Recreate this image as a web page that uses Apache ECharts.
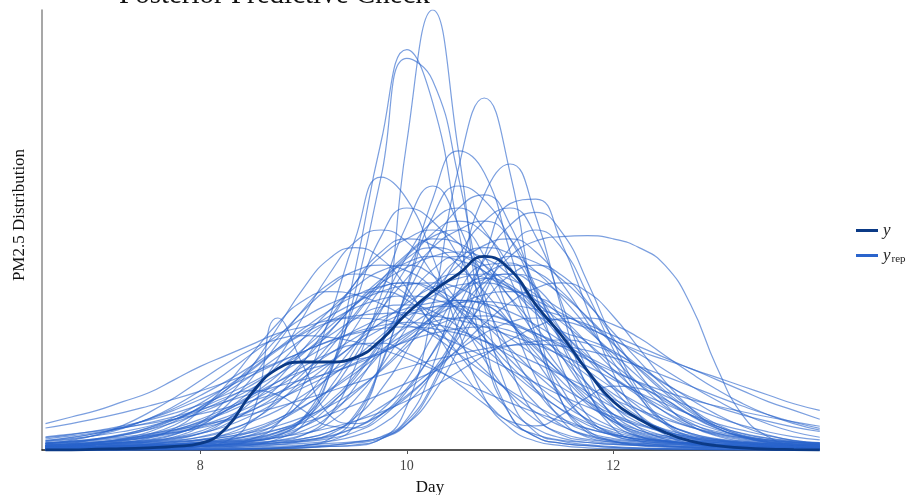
<!DOCTYPE html>
<html>
<head>
<meta charset="utf-8">
<title>Posterior Predictive Check</title>
<script src="https://cdn.jsdelivr.net/npm/echarts@6.0.0/dist/echarts.min.js"></script>
<style>
  html, body { margin: 0; padding: 0; background: #fff; }
  #chart { width: 918px; height: 495px; }
</style>
</head>
<body>
<div id="chart"></div>
<script>
// x grid (days) shared by every density curve
const dayGrid = [6.5, 6.75, 7, 7.25, 7.5, 7.75, 8, 8.25, 8.5, 8.75, 9, 9.25, 9.5, 9.75, 10, 10.25,
  10.5, 10.75, 11, 11.25, 11.5, 11.75, 12, 12.25, 12.5, 12.75, 13, 13.25, 13.5, 13.75, 14]
const dayTicks = [8, 10, 12]

// densities are written x100
const yObs = [0, 0, 0.2, 0.3, 0.5, 0.8, 1.5, 5, 13, 18.5, 20, 20, 21, 25, 31, 36, 40, 44, 41, 33, 26, 18, 11, 7, 4, 2, 1, 0.5, 0.2, 0.1, 0]

// tall, narrow draws
const repTall = [
  [0, 0, 0, 0, 0.1, 0.1, 0.1, 0.2, 0.3, 0.5, 1, 2, 6, 22, 70, 100, 68, 26, 8, 3, 1.5, 1, 0.6, 0.4, 0.3, 0.2, 0.1, 0.1, 0, 0, 0],
  [0, 0, 0.1, 0.1, 0.2, 0.3, 0.5, 0.8, 1.2, 2.5, 6, 17, 41, 70, 91, 79, 50, 22, 8, 3, 1.5, 1, 0.6, 0.4, 0.3, 0.2, 0.1, 0, 0, 0, 0],
  [0, 0.1, 0.1, 0.2, 0.3, 0.5, 0.8, 1.2, 2, 3.5, 7, 17, 36, 62, 89, 84, 62, 33, 12, 4, 2, 1.2, 0.8, 0.5, 0.3, 0.2, 0.1, 0, 0, 0, 0],
  [0, 0, 0, 0, 0, 0, 0.1, 0.1, 0.2, 0.3, 0.5, 0.8, 1.2, 2.5, 10, 32, 64, 80, 63, 31, 11, 4, 2, 1.2, 0.8, 0.5, 0.3, 0.2, 0.1, 0.1, 0],
  [0, 0, 0, 0, 0, 0.1, 0.1, 0.2, 0.3, 0.5, 1, 2.5, 7.5, 19, 37, 57, 68, 63, 45, 26, 11, 4.5, 2, 1, 0.6, 0.4, 0.2, 0.1, 0, 0, 0],
  [0, 0, 0, 0, 0, 0, 0.1, 0.1, 0.2, 0.3, 0.5, 1, 1.8, 3, 7, 19, 39, 58, 65, 53, 32, 14, 5, 2, 1, 0.6, 0.3, 0.2, 0.1, 0, 0],
  [0, 0, 0.1, 0.1, 0.3, 0.5, 0.8, 1.5, 2.5, 6, 15, 30, 48, 62, 57, 44, 27, 12, 5, 2, 1, 0.5, 0.3, 0.2, 0.1, 0.1, 0, 0, 0, 0, 0],
  [0, 0, 0, 0, 0, 0.1, 0.1, 0.2, 0.3, 0.4, 0.6, 0.8, 1, 2.5, 6.5, 15, 29, 44, 56, 57, 47, 32, 17.5, 8, 3.5, 1.5, 0.8, 0.4, 0.2, 0.1, 0],
]

// plateau, early bump and dipped draws
const repOdd = [
  [0, 0, 0, 0.1, 0.1, 0.2, 0.3, 0.5, 0.8, 1.2, 2, 3, 5, 8, 12, 18, 27, 37, 44, 47.5, 48.5, 48.7, 48, 46, 42, 33, 19, 8, 3, 1, 0.4],
  [0, 0, 0, 0, 0.2, 0.4, 0.8, 2, 8, 30, 19, 8, 6, 9, 16, 26, 36, 42, 42.5, 36, 27, 18, 10, 5, 2.5, 1.2, 0.6, 0.3, 0.1, 0, 0],
  [0.5, 0.8, 1.2, 2, 3, 4.5, 6.5, 9, 12, 15.5, 19, 22, 24, 24.3, 22, 19, 15, 10.5, 6.5, 5.5, 8, 12, 14.5, 14, 11.5, 8, 5, 3, 1.7, 1, 0.5],
  [1, 1.5, 2.5, 3.5, 5, 7, 9.5, 12, 13.5, 12.5, 9, 5.5, 5, 8, 14, 22, 31, 38, 40, 37, 30, 22, 14, 8, 4.5, 2.5, 1.3, 0.7, 0.4, 0.2, 0.1],
]

// wide draws with long tails
const repWide = [
  [6, 7.5, 9, 11, 13, 16, 19, 21.5, 24, 26.5, 28, 29.5, 30.5, 31, 31.2, 30.5, 29.5, 28, 26, 24, 21.5, 19, 16, 13, 10.5, 8, 6, 4.5, 3.2, 2.2, 1.5],
  [1, 1.3, 1.7, 2.2, 3, 4, 5.5, 7.5, 10, 13, 16.5, 20, 24, 27.5, 30.5, 32.5, 33.5, 33.8, 33, 32, 30.5, 28.5, 26, 23.5, 21, 18.5, 16.5, 14.5, 12.5, 10.5, 9],
  [0.3, 0.4, 0.6, 0.9, 1.3, 2, 3, 4.5, 6.5, 9, 12.5, 16.5, 21, 26, 31, 35, 37.5, 38, 36.5, 34, 31, 28, 25, 22.5, 20.5, 18.5, 16, 13.5, 11, 9, 7],
  [0.8, 1.1, 1.6, 2.3, 3.3, 4.6, 6.3, 8.5, 11.2, 14.4, 18, 21.8, 25.5, 28.8, 31.2, 32.5, 32.7, 31.3, 29.2, 26.5, 23.5, 20.5, 17.8, 15.4, 13.3, 11.5, 10, 8.7, 7.5, 6.4, 5.4],
  [5, 6, 7.2, 8.5, 10, 11.6, 13.4, 15.4, 17.6, 20, 22.4, 24.8, 26.8, 28.3, 29, 28.6, 27.2, 24.8, 21.4, 17.8, 14.2, 10.9, 8.1, 5.9, 4.2, 3, 2.1, 1.5, 1.05, 0.75, 0.5],
]

// draws with heavier tails or shoulders
const repTail = [
  [3, 3.6, 4.3, 5.1, 6, 7, 8.2, 9.6, 11.2, 13, 15.2, 17.8, 20.8, 24.2, 28, 31.5, 34, 33, 29, 23.5, 17, 11, 6.5, 3.6, 2.2, 1.5, 1.1, 0.8, 0.6, 0.5, 0.4],
  [0.5, 0.6, 0.8, 1, 1.3, 1.7, 2.2, 3, 4, 5.5, 7.5, 10, 13.5, 18, 23.5, 29.5, 35.5, 40, 42, 40.5, 36, 30, 24, 19, 15, 12, 9.8, 8, 6.5, 5.2, 4.2],
  [2.5, 3.2, 4, 5, 6.2, 7.6, 9.2, 11, 12.8, 14.5, 16, 17.5, 19.5, 22, 25, 28, 30, 30.5, 29, 26, 22, 18, 14, 10.5, 7.5, 5.2, 3.6, 2.5, 1.8, 1.3, 1],
  [2, 2.6, 3.3, 4.2, 5.4, 7, 9, 11.6, 14.8, 18.5, 23, 28, 33, 37, 38, 36, 32, 26.5, 20.5, 15, 10.5, 7, 4.6, 3, 2.1, 1.5, 1.1, 0.9, 0.7, 0.6, 0.5],
  [0.3, 0.4, 0.5, 0.6, 0.8, 1, 1.3, 1.7, 2.2, 2.9, 3.8, 5, 6.6, 8.6, 11.2, 14.3, 17.8, 21.5, 25, 28, 29.8, 30, 28.5, 25.5, 21.5, 17.5, 13.8, 10.6, 8, 6, 4.5],
  [1.5, 1.8, 2.2, 2.7, 3.3, 4, 5, 6.5, 9, 12.5, 17.5, 24, 31, 38.5, 44.5, 48, 47, 42, 34.5, 26, 18, 11.5, 7, 4.5, 3.2, 2.5, 2, 1.7, 1.4, 1.2, 1],
  [1, 1.3, 1.8, 2.5, 3.5, 5, 7, 9.5, 12.5, 15.5, 18, 19.5, 20.5, 22, 25.5, 30.5, 36, 39, 37.5, 32, 25, 18, 12, 7.5, 4.5, 2.7, 1.7, 1.1, 0.8, 0.6, 0.4],
  [0.4, 0.5, 0.6, 0.8, 1, 1.3, 1.7, 2.3, 3.2, 4.6, 7, 11, 17, 25, 34, 41, 44, 42, 37, 31, 27, 25, 22.5, 18.5, 13.5, 9, 5.5, 3.2, 1.9, 1.2, 0.8],
  [1.5, 1.9, 2.4, 3, 3.7, 4.6, 5.6, 6.8, 8.2, 9.8, 11.5, 13.3, 15.2, 17, 18.8, 20.4, 21.8, 23, 23.8, 24, 23.6, 22.6, 21, 19, 16.8, 14.5, 12.2, 10, 8, 6.3, 4.9],
  [2.8, 3.5, 4.4, 5.5, 6.8, 8.4, 10.3, 12.6, 15.4, 18.6, 22.2, 26, 29.8, 32.5, 33, 31.5, 28, 23.2, 18, 13.2, 9.2, 6.2, 4.1, 2.8, 2, 1.5, 1.2, 1, 0.8, 0.7, 0.6],
]

// the bulk of the draws
const repMain = [
  [0.5, 0.6, 0.7, 0.9, 1, 1.3, 1.6, 2, 2.6, 4.1, 7.4, 14, 23, 33, 44, 52, 55, 50, 39, 25, 14, 6.5, 3.2, 2.1, 1.6, 1.2, 0.9, 0.7, 0.6, 0.5, 0.4],
  [1.1, 1.3, 1.5, 1.8, 2.2, 2.9, 4.3, 6.8, 11, 16, 23, 30, 38, 44, 48, 50, 47, 40, 30, 20.5, 12.5, 6.8, 3.8, 2.4, 1.8, 1.5, 1.2, 1, 0.8, 0.7, 0.6],
  [0.8, 1, 1.1, 1.3, 1.6, 1.9, 2.3, 3, 4.4, 7, 11, 17, 24, 32, 39, 46, 50, 52, 48, 37, 24, 13, 6.1, 3, 2, 1.5, 1.1, 0.9, 0.7, 0.6, 0.4],
  [0.6, 0.8, 0.9, 1.1, 1.4, 1.7, 2.3, 3.6, 6.5, 12, 20, 29, 38, 45, 48, 46.5, 42, 36, 29, 22, 15.6, 10.4, 6.5, 4.1, 2.8, 2.1, 1.7, 1.4, 1.2, 1.1, 0.9],
  [0.7, 0.8, 0.9, 1.1, 1.2, 1.4, 1.7, 2.1, 2.8, 4.1, 6.5, 10.4, 15.6, 22, 29, 36, 42, 46.5, 48, 45, 38, 29, 20, 12, 6.5, 3.6, 2.3, 1.7, 1.4, 1.1, 0.9],
  [1.4, 1.6, 1.9, 2.3, 3.1, 4.3, 6.1, 8.9, 12.5, 17, 22, 27, 33, 38, 41.5, 44, 45, 43.6, 39.7, 34, 27, 20.6, 14.6, 9.7, 6.1, 3.8, 2.6, 2, 1.6, 1.4, 1.1],
  [1.3, 1.5, 1.8, 2.4, 3.6, 5.7, 9.1, 13.7, 19.2, 25.5, 31.7, 37, 40.7, 42, 40.7, 37, 31.7, 25.5, 19.2, 13.7, 9.1, 5.7, 3.6, 2.4, 1.8, 1.5, 1.3, 1, 0.9, 0.8, 0.7],
  [1.1, 1.2, 1.4, 1.7, 2.1, 2.7, 3.8, 5.4, 7.9, 11.1, 15, 19.5, 24.3, 29, 33.4, 37, 39, 40, 38.8, 35.3, 30.2, 24.3, 18.3, 13, 8.6, 5.4, 3.4, 2.3, 1.8, 1.4, 1.2],
  [2.2, 2.9, 3.8, 5.1, 7.1, 9.5, 12.4, 15.6, 19.2, 23, 26.9, 30.4, 33.5, 36, 37.5, 38, 36.8, 33.5, 28.7, 23, 17.4, 12.4, 8.2, 5.1, 3.2, 2.2, 1.7, 1.4, 1.1, 1, 0.8],
  [0.3, 0.4, 0.5, 0.6, 0.7, 0.9, 1, 1.3, 1.6, 2, 2.6, 4.1, 7.4, 13.7, 22.6, 33.4, 44, 52, 55, 48.5, 33.4, 17.9, 7.4, 3.2, 2, 1.4, 1, 0.8, 0.6, 0.4, 0.3],
  [0.2, 0.2, 0.3, 0.3, 0.4, 0.5, 0.7, 0.8, 1.1, 1.5, 2.2, 3.5, 8.1, 19.5, 36.4, 53, 60, 56.8, 48, 36.4, 24.7, 14.9, 8.1, 4.5, 2.9, 2.2, 1.7, 1.4, 1.1, 1, 0.8],
  [0.8, 0.9, 1.2, 1.4, 1.9, 3, 5.4, 10, 16.4, 24.3, 32, 37.8, 40, 38.8, 35.3, 30.2, 24.3, 18.3, 13, 8.6, 5.4, 3.4, 2.3, 1.8, 1.4, 1.2, 1, 0.9, 0.8, 0.6, 0.6],
  [1.5, 1.8, 2.4, 3.3, 4.7, 6.9, 9.7, 13.1, 17, 21.2, 25.4, 29.2, 32.3, 34.3, 35, 34.3, 32.3, 29.2, 25.4, 21.2, 17, 13.1, 9.7, 6.9, 4.7, 3.3, 2.4, 1.8, 1.5, 1.3, 1.1],
  [0.3, 0.3, 0.3, 0.4, 0.5, 0.5, 0.7, 0.8, 1, 1.2, 1.5, 2, 3.2, 5.7, 10.5, 17.3, 25.5, 33.6, 39.7, 42, 39.7, 33.6, 25.5, 17.3, 10.5, 5.7, 3.2, 2, 1.5, 1.2, 1],
  [0.2, 0.3, 0.3, 0.4, 0.5, 0.6, 0.8, 1.1, 1.5, 2.1, 3.4, 7.8, 18.9, 35.2, 51.2, 60, 51.2, 35.2, 18.9, 7.8, 3.4, 2.1, 1.5, 1.1, 0.8, 0.6, 0.5, 0.4, 0.3, 0.3, 0.2],
  [0.4, 0.4, 0.5, 0.6, 0.7, 0.9, 1.1, 1.3, 1.7, 2.2, 3.5, 6.2, 11.5, 18.9, 27.9, 36.8, 43.5, 46, 44.6, 40.6, 34.7, 27.9, 21.1, 15, 9.9, 6.2, 3.9, 2.7, 2, 1.7, 1.4],
  [0.8, 1, 1.3, 1.7, 2.7, 4.9, 9, 14.8, 21.9, 28.8, 34, 36, 35.3, 33.2, 30, 26.1, 21.9, 17.5, 13.5, 10, 7.1, 4.9, 3.4, 2.4, 1.9, 1.5, 1.3, 1.1, 1, 0.9, 0.8],
  [1.6, 2, 2.6, 3.4, 4.6, 6.3, 8.5, 11, 14, 17.2, 20.6, 24, 27.2, 30, 32.2, 33.5, 34, 33.3, 31.4, 28.4, 24.7, 20.6, 16.6, 12.8, 9.5, 6.7, 4.6, 3.2, 2.3, 1.8, 1.4],
  [0.4, 0.5, 0.5, 0.6, 0.7, 0.8, 1, 1.1, 1.4, 1.7, 2.2, 3.2, 5.1, 8.2, 12.4, 17.4, 23.1, 28.7, 33.5, 36.8, 38, 35.9, 30.4, 23.1, 15.6, 9.5, 5.1, 2.9, 1.8, 1.4, 1.1],
  [0.25, 0.3, 0.3, 0.4, 0.6, 0.8, 1, 1.4, 2, 3.2, 7.4, 17.9, 33.4, 48.5, 55, 52, 44, 33.4, 22.6, 13.7, 7.4, 4.1, 2.6, 2, 1.6, 1.3, 1, 0.9, 0.7, 0.6, 0.5],
  [1, 1.1, 1.3, 1.5, 1.8, 2.2, 2.9, 4.3, 6.8, 10.8, 16.3, 22.9, 30.4, 37.8, 44.1, 48.5, 50, 44.1, 30.4, 16.3, 6.8, 2.9, 1.8, 1.3, 1, 0.7, 0.6, 0.4, 0.3, 0.25, 0.2],
  [0.9, 1, 1.1, 1.3, 1.5, 1.9, 2.4, 3.4, 4.9, 7.1, 10, 13.5, 17.5, 21.9, 26.1, 30.1, 33.2, 35.3, 36, 34.9, 31.8, 27.2, 21.9, 16.5, 11.7, 7.8, 4.9, 3.1, 2.1, 1.6, 1.3],
  [0.8, 1, 1.2, 1.5, 1.8, 2.4, 3.8, 6.8, 12.5, 20.6, 30.4, 40, 47.3, 50, 47.3, 40, 30.4, 20.6, 12.5, 6.8, 3.8, 2.4, 1.8, 1.5, 1.2, 1, 0.8, 0.7, 0.6, 0.5, 0.4],
  [1, 1.1, 1.3, 1.6, 1.9, 2.6, 3.7, 5.9, 9.5, 14.3, 20.2, 26.7, 33.2, 38.8, 42.6, 44, 43.1, 40.6, 36.7, 31.9, 26.7, 21.4, 16.5, 12.2, 8.7, 5.9, 4.2, 3, 2.3, 1.8, 1.6],
  [0.5, 0.5, 0.6, 0.75, 0.9, 1.1, 1.3, 1.7, 2.1, 2.8, 4.4, 7.8, 14.4, 23.8, 35.2, 46.4, 54.9, 58, 51.2, 35.2, 18.9, 7.8, 3.4, 2.1, 1.5, 1.1, 0.8, 0.6, 0.5, 0.35, 0.3],
  [2.1, 2.8, 3.8, 5.2, 7, 9.1, 11.5, 14.2, 17, 19.8, 22.4, 24.7, 26.5, 27.6, 28, 27.6, 26.5, 24.7, 22.4, 19.8, 17, 14.2, 11.5, 9.1, 7, 5.2, 3.8, 2.8, 2.1, 1.6, 1.3],
  [0.4, 0.5, 0.5, 0.6, 0.7, 0.8, 0.9, 1.1, 1.3, 1.7, 2.6, 4.1, 6.5, 9.8, 13.7, 18.2, 22.7, 26.5, 29.1, 30, 29.4, 27.7, 25, 21.8, 18.2, 14.6, 11.3, 8.3, 5.9, 4.1, 2.9],
  [1.1, 1.3, 1.7, 2.6, 4.1, 6.5, 9.8, 13.7, 18.2, 22.7, 26.5, 29.1, 30, 29.6, 28.4, 26.5, 24, 21.2, 18.2, 15.2, 12.3, 9.8, 7.5, 5.6, 4.1, 3, 2.3, 1.7, 1.4, 1.3, 1.1],
  [0.4, 0.4, 0.5, 0.6, 0.8, 0.9, 1.2, 1.4, 1.9, 3, 5.4, 10, 16.4, 24.3, 32, 37.8, 40, 39.2, 36.9, 33.4, 29, 24.3, 19.5, 15, 11.1, 7.9, 5.4, 3.8, 2.7, 2.1, 1.7],
  [0.15, 0.2, 0.2, 0.2, 0.25, 0.3, 0.4, 0.55, 0.7, 0.85, 1.1, 1.5, 1.9, 2.9, 5.9, 12.5, 22.9, 35.4, 45.9, 50, 45.9, 35.4, 22.9, 12.5, 5.9, 2.9, 1.9, 1.5, 1.1, 0.85, 0.7],
  [0.1, 0.1, 0.15, 0.2, 0.2, 0.2, 0.3, 0.35, 0.5, 0.6, 0.8, 1.1, 1.6, 2.6, 5.9, 14.3, 26.7, 38.8, 44, 42.6, 38.8, 33.2, 26.7, 20.2, 14.3, 9.5, 5.9, 3.7, 2.6, 1.9, 1.6],
  [1.5, 2.2, 3.5, 5.6, 8.5, 11.9, 15.8, 19.6, 22.9, 25.2, 26, 25.6, 24.6, 22.9, 20.8, 18.4, 15.8, 13.2, 10.7, 8.5, 6.5, 4.8, 3.5, 2.6, 2, 1.5, 1.2, 1.1, 0.9, 0.8, 0.75],
  [1.2, 1.3, 1.6, 2.1, 2.8, 3.8, 5.2, 7, 9.1, 11.5, 14.2, 17, 19.8, 22.4, 24.7, 26.5, 27.6, 28, 27.1, 24.7, 21.1, 17, 12.8, 9.1, 6, 3.8, 2.4, 1.6, 1.2, 1, 0.8],
  [1.05, 1.3, 1.5, 1.8, 2.4, 3.6, 5.7, 9.1, 13.7, 19.2, 25.5, 31.7, 37, 40.7, 42, 39.7, 33.6, 25.5, 17.3, 10.5, 5.7, 3.2, 2, 1.5, 1.2, 1, 0.8, 0.7, 0.5, 0.5, 0.4],
  [0.7, 0.8, 0.9, 1.05, 1.2, 1.5, 1.9, 2.5, 3.4, 4.7, 6.2, 8.1, 10.3, 12.7, 15.2, 17.7, 20, 22.1, 23.7, 24.7, 25, 24.2, 22.1, 18.9, 15.2, 11.5, 8.1, 5.4, 3.4, 2.1, 1.5],
  [0.5, 0.6, 0.7, 0.8, 1, 1.2, 1.5, 1.9, 2.5, 3.9, 7, 12.9, 21.4, 31.6, 41.6, 49.2, 52, 49.2, 41.6, 31.6, 21.4, 12.9, 7, 3.9, 2.5, 1.9, 1.5, 1.2, 1, 0.8, 0.7],
  [0.9, 1.1, 1.3, 1.7, 2.2, 3.5, 6.2, 11.5, 18.9, 27.9, 36.8, 43.5, 46, 43.5, 36.8, 27.9, 18.9, 11.5, 6.2, 3.5, 2.2, 1.7, 1.3, 1.1, 0.9, 0.7, 0.6, 0.5, 0.4, 0.4, 0.3],
  [0.5, 0.6, 0.7, 0.9, 1.1, 1.3, 1.7, 2.2, 3.5, 6.2, 11.5, 18.9, 27.9, 36.8, 43.5, 46, 44.6, 40.6, 34.7, 27.9, 21.1, 15, 9.9, 6.2, 3.9, 2.7, 2, 1.7, 1.4, 1.2, 1],
  [0.6, 0.6, 0.8, 0.9, 1, 1.2, 1.4, 1.8, 2.3, 3.4, 5.4, 8.6, 13, 18.3, 24.3, 30.2, 35.3, 38.8, 40, 38.8, 35.3, 30.2, 24.3, 18.3, 13, 8.6, 5.4, 3.4, 2.3, 1.8, 1.4],
  [1.9, 2.4, 3.4, 4.9, 7.1, 10, 13.5, 17.5, 21.9, 26.1, 30.1, 33.2, 35.3, 36, 34.1, 28.8, 21.9, 14.8, 9, 4.9, 2.7, 1.7, 1.3, 1, 0.8, 0.7, 0.6, 0.5, 0.4, 0.4, 0.3],
  [0.6, 0.7, 0.8, 0.9, 1.1, 1.3, 1.7, 2.6, 4.1, 6.5, 9.8, 13.7, 18.2, 22.7, 26.5, 29.1, 30, 29.6, 28.4, 26.5, 24, 21.2, 18.2, 15.2, 12.3, 9.8, 7.5, 5.6, 4.1, 3, 2.3],
  [0.3, 0.3, 0.4, 0.5, 0.6, 0.7, 0.9, 1, 1.2, 1.6, 1.9, 2.6, 4.1, 7.3, 13.4, 22.2, 32.8, 43.2, 51.1, 54, 49.5, 38.2, 24.7, 13.4, 6.4, 3.1, 2.1, 1.6, 1.2, 0.9, 0.7],
  [1.6, 2, 2.6, 3.6, 5.1, 7.5, 10.6, 14.3, 18.5, 23.1, 27.6, 31.7, 35.1, 37.2, 38, 36.8, 33.5, 28.7, 23.1, 17.4, 12.4, 8.2, 5.1, 3.2, 2.2, 1.7, 1.4, 1.1, 1, 0.8, 0.7],
]

const serifFont = 'Liberation Serif'
const repColor = '#2a64cc'
const obsColor = '#0b3a86'

function toPoints(vals) {
  return dayGrid.map((d, i) => [d, vals[i] / 100])
}

const repDraws = [...repTall, ...repOdd, ...repWide, ...repTail, ...repMain]

const series = repDraws.map((vals) => ({
  name: 'y_rep',
  type: 'line',
  data: toPoints(vals),
  smooth: 0.5,
  showSymbol: false,
  silent: true,
  z: 2,
  lineStyle: { color: repColor, width: 1.2, opacity: 0.62 },
  itemStyle: { color: repColor },
}))

series.push({
  name: 'y',
  type: 'line',
  data: toPoints(yObs),
  smooth: 0.5,
  showSymbol: false,
  silent: true,
  z: 5,
  lineStyle: { color: obsColor, width: 2.8 },
  itemStyle: { color: obsColor },
})

const chart = echarts.init(document.getElementById('chart'))
chart.setOption({
  animation: false,
  backgroundColor: '#fff',
  title: {
    text: 'Posterior Predictive Check',
    left: 114,
    top: -24,
    textStyle: { fontFamily: serifFont, fontSize: 29, fontWeight: 'normal', color: '#111' },
  },
  grid: { left: 42, right: 100, top: 10, bottom: 45, outerBoundsMode: 'none', containLabel: false },
  legend: {
    orient: 'vertical',
    left: 851,
    top: 217,
    itemGap: 8,
    itemWidth: 22,
    itemHeight: 3,
    data: [
      { name: 'y', icon: 'rect', itemStyle: { color: obsColor, opacity: 1 } },
      { name: 'y_rep', icon: 'rect', itemStyle: { color: repColor, opacity: 1 } },
    ],
    formatter: (name) => (name === 'y' ? '{it|y}' : '{it|y}{sub|rep}'),
    textStyle: {
      rich: {
        it: { fontFamily: serifFont, fontStyle: 'italic', fontSize: 17, color: '#222', lineHeight: 20 },
        sub: { fontFamily: serifFont, fontSize: 11, color: '#222', padding: [7, 0, 0, 1] },
      },
    },
  },
  xAxis: {
    type: 'value',
    min: 6.466,
    max: 13.983,
    name: 'Day',
    nameLocation: 'middle',
    nameGap: 29,
    nameTextStyle: { fontFamily: serifFont, fontSize: 17, color: '#111' },
    axisLine: { lineStyle: { color: '#1a1a1a', width: 1.5 } },
    axisTick: { show: true, length: 4, customValues: dayTicks, lineStyle: { color: '#555' } },
    axisLabel: { customValues: dayTicks, margin: 9, fontFamily: serifFont, fontSize: 14, color: '#444' },
    splitLine: { show: false },
  },
  yAxis: {
    type: 'value',
    min: 0,
    max: 1,
    name: 'PM2.5 Distribution',
    nameLocation: 'middle',
    nameGap: 14,
    nameRotate: 90,
    nameTextStyle: { fontFamily: serifFont, fontSize: 17, color: '#111', padding: [0, 0, 0, 30] },
    axisLine: { show: true, lineStyle: { color: '#8a8a8a', width: 1.5 } },
    axisTick: { show: false },
    axisLabel: { show: false },
    splitLine: { show: false },
  },
  series: series,
})
</script>
</body>
</html>
